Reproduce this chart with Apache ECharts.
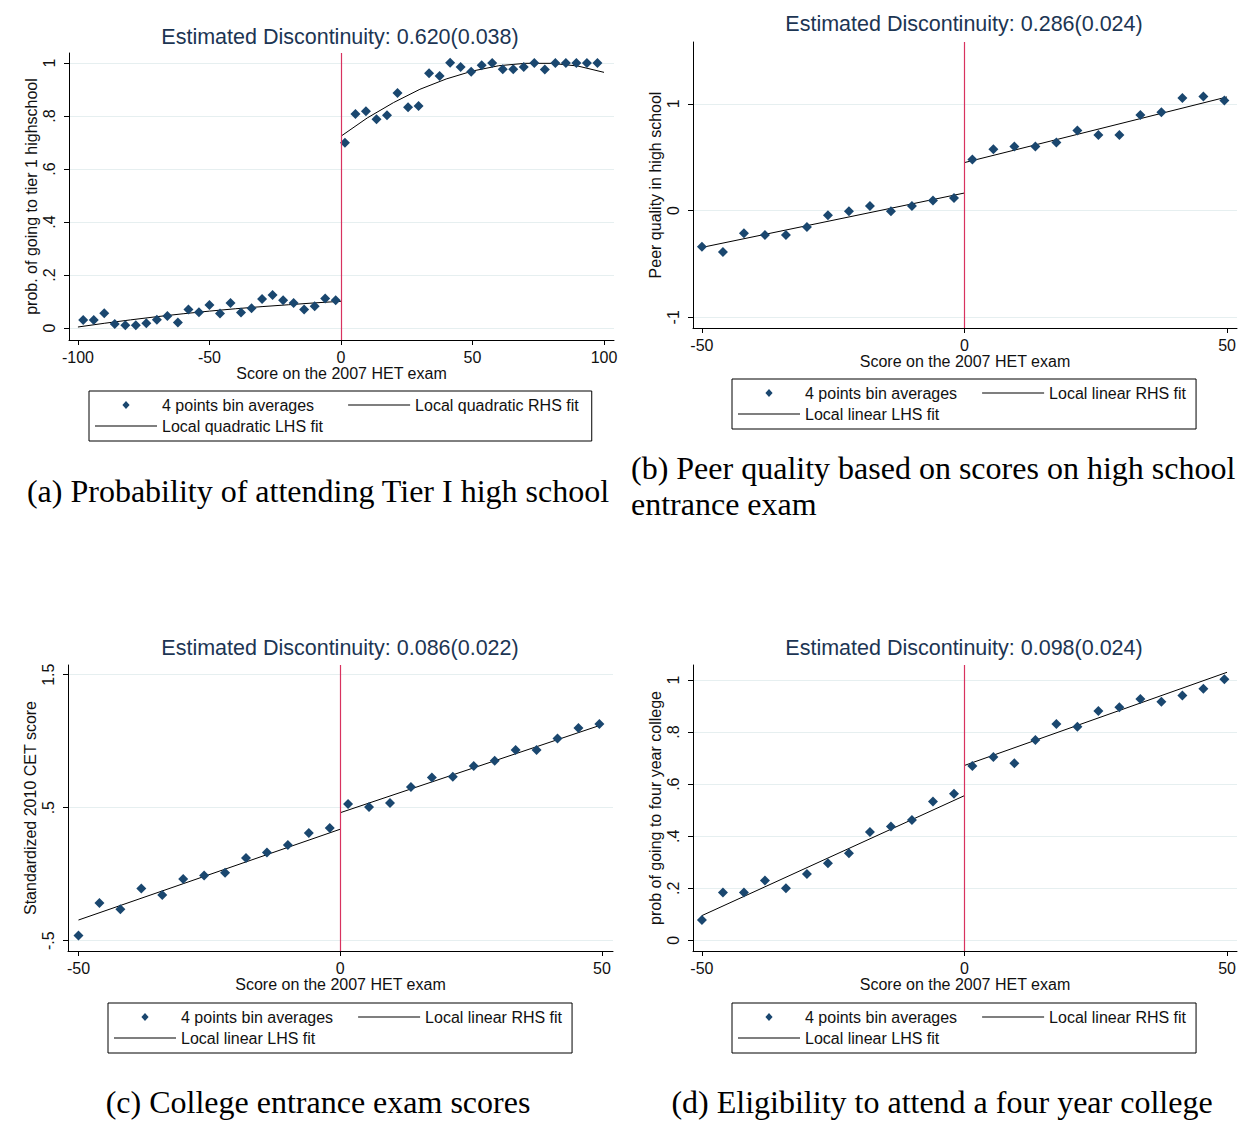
<!DOCTYPE html>
<html><head><meta charset="utf-8">
<script src="https://cdn.jsdelivr.net/npm/echarts@6/dist/echarts.min.js"></script>
<style>html,body{margin:0;padding:0;background:#fff}#c{width:1257px;height:1123px}</style>
</head><body><div id="c"></div>
<script>
// ---------- DATA ----------
// Panel (a): Probability of attending Tier I high school
const aBinX_L = [-98,-94,-90,-86,-82,-78,-74,-70,-66,-62,-58,-54,-50,-46,-42,-38,-34,-30,-26,-22,-18,-14,-10,-6,-2];
const aBinY_L = [0.030,0.030,0.056,0.015,0.011,0.011,0.018,0.031,0.046,0.021,0.070,0.060,0.087,0.055,0.095,0.059,0.075,0.110,0.125,0.105,0.095,0.070,0.082,0.112,0.105];
const aBinX_R = [1.5,5.5,9.5,13.5,17.5,21.5,25.5,29.5,33.5,37.5,41.5,45.5,49.5,53.5,57.5,61.5,65.5,69.5,73.5,77.5,81.5,85.5,89.5,93.5,97.5];
const aBinY_R = [0.699,0.808,0.818,0.788,0.803,0.887,0.833,0.838,0.962,0.951,1.001,0.985,0.967,0.992,1.000,0.977,0.977,0.985,1.000,0.976,1.000,1.000,1.000,1.000,1.000];
const aFitX_L = [-100,-90,-80,-70,-60,-50,-40,-30,-20,-10,0];
const aFitY_L = [0.004,0.018,0.031,0.043,0.054,0.064,0.073,0.081,0.088,0.095,0.101];
const aFitX_R = [0,10,20,30,40,50,60,70,80,90,100];
const aFitY_R = [0.724,0.793,0.851,0.901,0.940,0.970,0.990,0.999,0.999,0.989,0.965];
const aXTicks = [-100,-50,0,50,100];
const aYTicks = [0,0.2,0.4,0.6,0.8,1];

// Panel (b): Peer quality
const bBinX_L = [-50,-46,-42,-38,-34,-30,-26,-22,-18,-14,-10,-6,-2];
const bBinY_L = [-0.338,-0.388,-0.213,-0.228,-0.228,-0.153,-0.044,-0.006,0.044,-0.006,0.044,0.094,0.119];
const bBinX_R = [1.5,5.5,9.5,13.5,17.5,21.5,25.5,29.5,33.5,37.5,41.5,45.5,49.5];
const bBinY_R = [0.478,0.575,0.600,0.600,0.638,0.750,0.709,0.709,0.897,0.922,1.056,1.069,1.031];
const bFitX_L = [-50,0];
const bFitY_L = [-0.345,0.165];
const bFitX_R = [0,50];
const bFitY_R = [0.450,1.065];
const bXTicks = [-50,0,50];
const bYTicks = [-1,0,1];

// Panel (c): College entrance exam scores
const cBinX_L = [-50,-46,-42,-38,-34,-30,-26,-22,-18,-14,-10,-6,-2];
const cBinY_L = [-0.462,-0.217,-0.264,-0.107,-0.157,-0.036,-0.011,0.011,0.122,0.162,0.219,0.310,0.347];
const cBinX_R = [1.5,5.5,9.5,13.5,17.5,21.5,25.5,29.5,33.5,37.5,41.5,45.5,49.5];
const cBinY_R = [0.528,0.505,0.535,0.655,0.726,0.733,0.813,0.853,0.934,0.934,1.021,1.099,1.129];
const cFitX_L = [-50,0];
const cFitY_L = [-0.345,0.338];
const cFitX_R = [0,50];
const cFitY_R = [0.462,1.124];
const cXTicks = [-50,0,50];
const cYTicks = [-0.5,0.5,1.5];

// Panel (d): Eligibility to attend a four year college
const dBinX_L = [-50,-46,-42,-38,-34,-30,-26,-22,-18,-14,-10,-6,-2];
const dBinY_L = [0.078,0.184,0.184,0.230,0.200,0.255,0.296,0.335,0.416,0.437,0.462,0.533,0.563];
const dBinX_R = [1.5,5.5,9.5,13.5,17.5,21.5,25.5,29.5,33.5,37.5,41.5,45.5,49.5];
const dBinY_R = [0.670,0.704,0.680,0.770,0.831,0.821,0.881,0.896,0.927,0.917,0.941,0.967,1.003];
const dFitX_L = [-50,0];
const dFitY_L = [0.095,0.556];
const dFitX_R = [0,50];
const dFitY_R = [0.672,1.030];
const dXTicks = [-50,0,50];
const dYTicks = [0,0.2,0.4,0.6,0.8,1];

const plotTitles = ['Estimated Discontinuity: 0.620(0.038)','Estimated Discontinuity: 0.286(0.024)','Estimated Discontinuity: 0.086(0.022)','Estimated Discontinuity: 0.098(0.024)'];
const yNames = ['prob. of going to tier 1 highschool','Peer quality in high school','Standardized 2010 CET score','prob of going to four year college'];
const xName = 'Score on the 2007 HET exam';
const binName = '4 points bin averages';
const quadR = 'Local quadratic RHS fit', quadL = 'Local quadratic LHS fit';
const linR = 'Local linear RHS fit', linL = 'Local linear LHS fit';
const captions = ['(a) Probability of attending Tier I high school','(b) Peer quality based on scores on high school','entrance exam','(c) College entrance exam scores','(d) Eligibility to attend a four year college'];

// ---------- LAYOUT / STYLE ----------
const SANS = 'Liberation Sans, Arial, sans-serif';
const SERIF = 'Liberation Serif, Times New Roman, serif';
const NAVY = '#1a476f';
const RED = '#d8325f';
const GRIDC = '#e6eff0';
const TXT = '#111';
// legend key shapes spanning the full 62x8 key box (diamond centred, thin line centred)
const ICON_DIAMOND = 'path://M0,4L0.01,4M62,4L61.99,4M31,0.3L34.6,4L31,7.7L27.4,4Z';
const ICON_LINE = 'path://M0,0L0.01,0M0,8L0.01,8M0,3.45L62,3.45L62,4.55L0,4.55Z';

const zip = (xs, ys) => xs.map((x, i) => [x, ys[i]]);
const fmt = v => { if (v === 0) return '0'; return String(v).replace(/^(-?)0\./, '$1.'); };

const panels = [
  {grid:{left:69,top:53,width:545,height:287}, xr:[-103.4,103.8], yr:[-0.045,1.038], xt:aXTicks, yt:aYTicks,
   bxl:aBinX_L, byl:aBinY_L, bxr:aBinX_R, byr:aBinY_R, fxl:aFitX_L, fyl:aFitY_L, fxr:aFitX_R, fyr:aFitY_R, lName:quadL, rName:quadR,
   title:{x:340,y:26}, leg:{left:89,top:391,left2:95,top2:418,gap:34,padR:13}},
  {grid:{left:693,top:42,width:544,height:286}, xr:[-51.7,51.9], yr:[-1.10,1.58], xt:bXTicks, yt:bYTicks,
   bxl:bBinX_L, byl:bBinY_L, bxr:bBinX_R, byr:bBinY_R, fxl:bFitX_L, fyl:bFitY_L, fxr:bFitX_R, fyr:bFitY_R, lName:linL, rName:linR,
   title:{x:964,y:13}, leg:{left:732,top:379,left2:738,top2:406,gap:25,padR:10}},
  {grid:{left:68,top:665,width:545,height:286}, xr:[-52.0,52.1], yr:[-0.578,1.573], xt:cXTicks, yt:cYTicks,
   bxl:cBinX_L, byl:cBinY_L, bxr:cBinX_R, byr:cBinY_R, fxl:cFitX_L, fyl:cFitY_L, fxr:cFitX_R, fyr:cFitY_R, lName:linL, rName:linR,
   title:{x:340,y:637}, leg:{left:108,top:1003,left2:114,top2:1030,gap:25,padR:10}},
  {grid:{left:693,top:665,width:544,height:286}, xr:[-51.7,51.9], yr:[-0.041,1.058], xt:dXTicks, yt:dYTicks,
   bxl:dBinX_L, byl:dBinY_L, bxr:dBinX_R, byr:dBinY_R, fxl:dFitX_L, fyl:dFitY_L, fxr:dFitX_R, fyr:dFitY_R, lName:linL, rName:linR,
   title:{x:964,y:637}, leg:{left:732,top:1003,left2:738,top2:1030,gap:25,padR:10}}
];

const grids = [], xAxes = [], yAxes = [], series = [], legends = [], titles = [];

panels.forEach((p, i) => {
  grids.push(Object.assign({containLabel:false, outerBoundsMode:'none'}, p.grid));
  xAxes.push({
    gridIndex:i, type:'value', min:p.xr[0], max:p.xr[1],
    axisLine:{show:true, onZero:false, lineStyle:{color:'#000', width:1}},
    axisTick:{show:true, inside:false, length:5, customValues:p.xt, lineStyle:{color:'#000'}},
    axisLabel:{show:true, customValues:p.xt, margin:9, fontSize:16, color:TXT, fontFamily:SANS, formatter:fmt},
    splitLine:{show:false},
    name:xName, nameLocation:'middle', nameGap:24,
    nameTextStyle:{fontSize:16, color:TXT, fontFamily:SANS}
  });
  yAxes.push({
    gridIndex:i, type:'value', min:p.yr[0], max:p.yr[1],
    axisLine:{show:true, onZero:false, lineStyle:{color:'#000', width:1}},
    axisTick:{show:true, inside:false, length:5, customValues:p.yt, lineStyle:{color:'#000'}},
    axisLabel:{show:true, customValues:p.yt, rotate:90, margin:12, fontSize:16, color:TXT, fontFamily:SANS, formatter:fmt},
    splitLine:{show:true, lineStyle:{color:GRIDC, width:1}},
    name:yNames[i], nameLocation:'middle', nameGap:30,
    nameTextStyle:{fontSize:16, color:TXT, fontFamily:SANS}
  });
  series.push({
    type:'scatter', name:binName, xAxisIndex:i, yAxisIndex:i, data:zip(p.bxl, p.byl).concat(zip(p.bxr, p.byr)),
    symbol:'diamond', symbolSize:10, itemStyle:{color:NAVY, opacity:1}, z:4,
    markLine:{silent:true, symbol:['none','none'], label:{show:false}, animation:false,
      lineStyle:{color:RED, width:1.2, type:'solid', opacity:1}, emphasis:{disabled:true}, data:[{xAxis:0}]}
  });
  series.push({type:'line', name:p.lName, xAxisIndex:i, yAxisIndex:i, data:zip(p.fxl, p.fyl), symbol:'none', smooth:false,
    lineStyle:{color:'#000', width:1}, itemStyle:{color:'#000'}, z:3});
  series.push({type:'line', name:p.rName, xAxisIndex:i, yAxisIndex:i, data:zip(p.fxr, p.fyr), symbol:'none', smooth:false,
    lineStyle:{color:'#000', width:1}, itemStyle:{color:'#000'}, z:3});
  const legCommon = {orient:'horizontal', itemWidth:62, itemHeight:8, selectedMode:false, symbolKeepAspect:false,
    textStyle:{fontSize:16, color:TXT, fontFamily:SANS}};
  legends.push(Object.assign({}, legCommon, {left:p.leg.left, top:p.leg.top,
    data:[{name:binName, icon:ICON_DIAMOND, itemStyle:{color:NAVY, borderWidth:0, opacity:1}},
          {name:p.rName, icon:ICON_LINE, itemStyle:{color:'#000', borderWidth:0}}],
    itemGap:p.leg.gap, padding:[6,p.leg.padR,28,6], borderColor:'#000', borderWidth:1}));
  legends.push(Object.assign({}, legCommon, {left:p.leg.left2, top:p.leg.top2,
    data:[{name:p.lName, icon:ICON_LINE, itemStyle:{color:'#000', borderWidth:0}}], padding:0}));
  titles.push({text:plotTitles[i], left:p.title.x, top:p.title.y, textAlign:'center', textVerticalAlign:'top', padding:0,
    textStyle:{fontSize:21.5, fontWeight:'normal', color:'#1c3553', fontFamily:SANS}});
});

const capStyle = {fontSize:32, fontWeight:'normal', color:'#000', fontFamily:SERIF};
titles.push({text:captions[0], left:318, top:475, textAlign:'center', textVerticalAlign:'top', padding:0, textStyle:capStyle});
titles.push({text:captions[1], left:631, top:452, textAlign:'left', textVerticalAlign:'top', padding:0, textStyle:capStyle});
titles.push({text:captions[2], left:631, top:488, textAlign:'left', textVerticalAlign:'top', padding:0, textStyle:capStyle});
titles.push({text:captions[3], left:318, top:1086, textAlign:'center', textVerticalAlign:'top', padding:0, textStyle:capStyle});
titles.push({text:captions[4], left:942, top:1086, textAlign:'center', textVerticalAlign:'top', padding:0, textStyle:capStyle});

const chart = echarts.init(document.getElementById('c'), null, {renderer:'svg', width:1257, height:1123});
chart.setOption({
  animation:false,
  backgroundColor:'#fff',
  title:titles,
  legend:legends,
  grid:grids,
  xAxis:xAxes,
  yAxis:yAxes,
  series:series
});
</script></body></html>
